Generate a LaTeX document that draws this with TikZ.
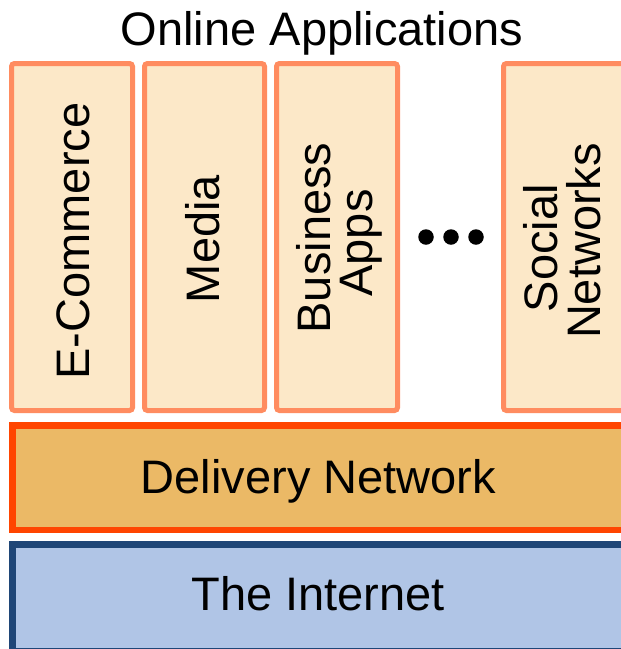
\documentclass[tikz,border=0pt]{standalone}
\usepackage{fontspec}
\setmainfont{Liberation Sans}
\definecolor{colstroke}{HTML}{FF8C60}
\definecolor{colfill}{HTML}{FCE8C8}
\definecolor{delstroke}{HTML}{FF4500}
\definecolor{delfill}{HTML}{EBB966}
\definecolor{netstroke}{HTML}{1F4677}
\definecolor{netfill}{HTML}{B0C5E6}
\tikzset{
  appbox/.style={draw=colstroke, fill=colfill, line width=5pt, rounded corners=3pt, inner sep=0pt, outer sep=0pt, anchor=north west},
  layerbox/.style={line width=6.5pt, inner sep=0pt, outer sep=0pt, anchor=north west},
  lbl/.style={inner sep=0pt, font=\fontsize{47}{47}\selectfont},
  vlbl/.style={lbl, rotate=90, anchor=base},
  dotmark/.style={circle, fill=black, inner sep=0pt, minimum size=15.5pt},
}
\begin{document}
\begin{tikzpicture}[x=1pt, y=-1pt]
\clip (0,0) rectangle (621,649);
\fill[white] (0,0) rectangle (621,649);
% title
\node[lbl, anchor=base] (title) at (322,45) {Online Applications};
% application columns
\node[appbox, minimum width=121pt, minimum height=347pt] (ecom) at (11.5,63.5) {};
\node[appbox, minimum width=120pt, minimum height=347pt] (media) at (144.5,63.5) {};
\node[appbox, minimum width=121pt, minimum height=347pt] (biz) at (276.5,63.5) {};
\node[appbox, minimum width=122pt, minimum height=347pt] (soc) at (503.5,63.5) {};
\node[vlbl] (ecomt) at (89,241) {E-Commerce};
\node[vlbl] (mediat) at (219,239) {Media};
\node[vlbl] (bizt1) at (330,238) {Business};
\node[vlbl] (bizt2) at (372,243) {Apps};
\node[vlbl] (soct1) at (557,248) {Social};
\node[vlbl] (soct2) at (600,241) {Networks};
% dots
\node[dotmark] (d1) at (426,237) {};
\node[dotmark] (d2) at (451,237) {};
\node[dotmark] (d3) at (476,237) {};
% layers
\node[layerbox, draw=delstroke, fill=delfill, minimum width=620pt, minimum height=104.5pt] (deliv) at (12.25,425.25) {};
\node[lbl, anchor=base] (delivt) at (318.5,493) {Delivery Network};
\node[layerbox, draw=netstroke, fill=netfill, minimum width=620pt, minimum height=106.5pt] (net) at (12.25,544.25) {};
\node[lbl, anchor=base] (nett) at (318,610) {The Internet};
\end{tikzpicture}
\end{document}
